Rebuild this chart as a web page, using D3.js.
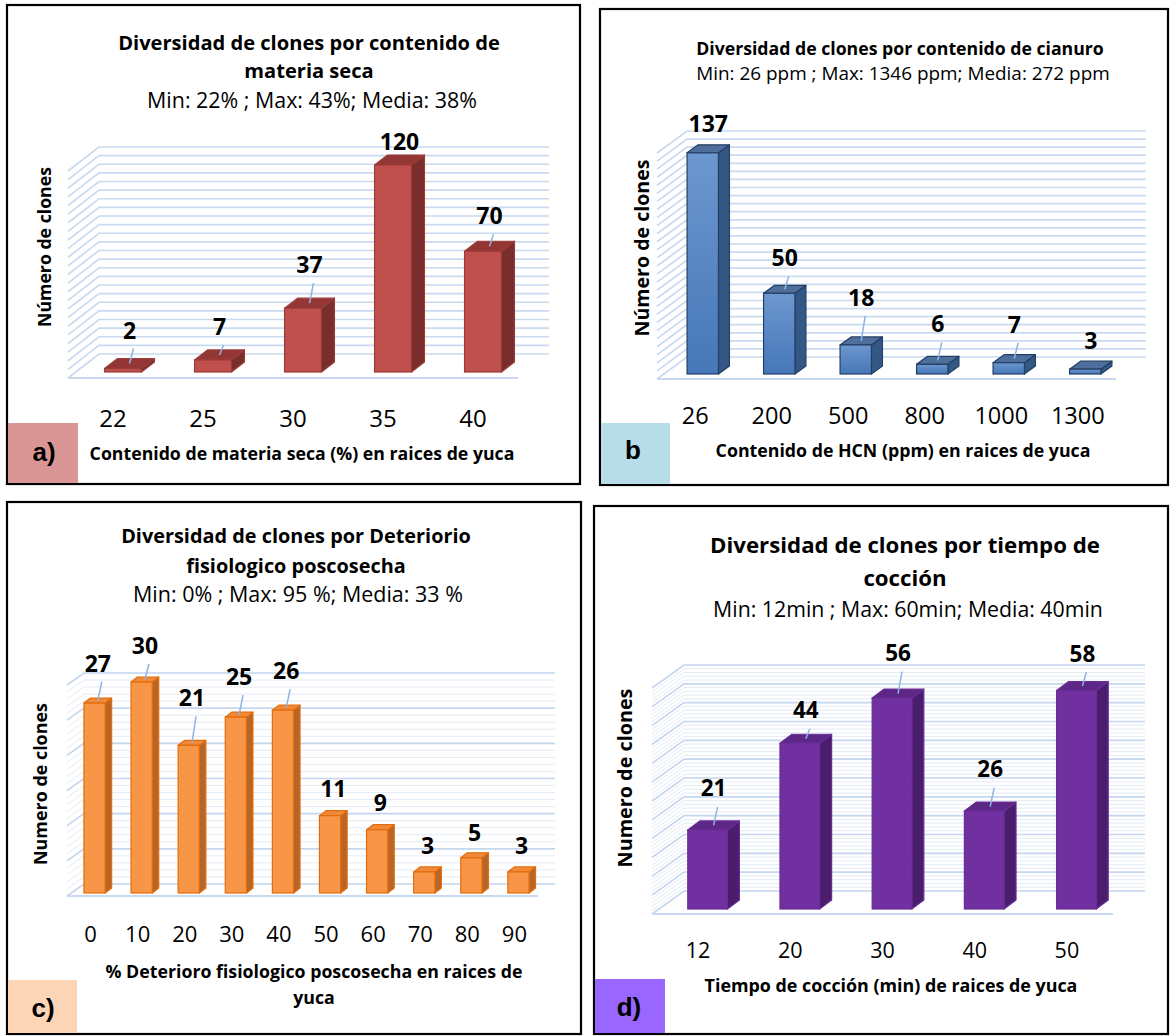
<!DOCTYPE html>
<head>
  <meta charset="utf-8">
  <script src="https://d3js.org/d3.v7.min.js"></script>
  <style>
    body { margin:0; background:#fff; }
    svg { display:block; }
    text { font-family: "Open Sans", Lato, sans-serif; fill:#000; }
  </style>
</head>
<body>
<script>
// ---- data ----
var catsA = ["22", "25", "30", "35", "40"];
var valsA = [2, 7, 37, 120, 70];
var catsB = ["26", "200", "500", "800", "1000", "1300"];
var valsB = [137, 50, 18, 6, 7, 3];
var catsC = ["0", "10", "20", "30", "40", "50", "60", "70", "80", "90"];
var valsC = [27, 30, 21, 25, 26, 11, 9, 3, 5, 3];
var catsD = ["12", "20", "30", "40", "50"];
var valsD = [21, 44, 56, 26, 58];

var titleA = ["Diversidad de clones por contenido de", "materia seca"];
var subA = "Min: 22% ; Max: 43%; Media: 38%";
var xTitleA = ["Contenido de materia seca (%) en raices de yuca"];
var titleB = ["Diversidad de clones por contenido de cianuro"];
var subB = "Min: 26 ppm ; Max: 1346 ppm; Media: 272 ppm";
var xTitleB = ["Contenido de HCN (ppm) en raices de yuca"];
var titleC = ["Diversidad de clones por Deteriorio", "fisiologico poscosecha"];
var subC = "Min: 0% ; Max: 95 %; Media: 33 %";
var xTitleC = ["% Deterioro fisiologico poscosecha en raices de", "yuca"];
var titleD = ["Diversidad de clones por tiempo de", "cocción"];
var subD = "Min: 12min ; Max: 60min; Media: 40min";
var xTitleD = ["Tiempo de cocción (min) de raices de yuca"];

var svg = d3.select("body").append("svg")
  .attr("width", 1171).attr("height", 1036);

var defs = svg.append("defs");
var gb = defs.append("linearGradient").attr("id", "blueFront")
  .attr("x1", 0).attr("y1", 0).attr("x2", 0).attr("y2", 1);
gb.append("stop").attr("offset", "0%").attr("stop-color", "#6d97cf");
gb.append("stop").attr("offset", "100%").attr("stop-color", "#4677b8");

// scale a block of text lines so the first one is `target` px wide
function fitLines(sel, target) {
  var first = sel.nodes()[0];
  var fs = parseFloat(d3.select(first).attr("font-size"));
  var len = first.getComputedTextLength();
  sel.attr("font-size", fs * target / len);
}

function drawChart(c) {
  var g = svg.append("g");

  // panel frame
  g.append("rect").attr("x", c.box[0]).attr("y", c.box[1])
    .attr("width", c.box[2]).attr("height", c.box[3])
    .attr("fill", "#fff").attr("stroke", "#000").attr("stroke-width", 2.2);

  // titles
  var tl = g.selectAll(null).data(c.title).enter().append("text")
    .attr("x", c.titleCx).attr("y", function (d, i) { return c.titleY[i]; })
    .attr("text-anchor", "middle").attr("dominant-baseline", "central")
    .attr("font-weight", "bold").attr("font-size", 18).text(function (d) { return d; });
  fitLines(tl, c.titleW);
  var st = g.append("text").attr("x", c.subCx).attr("y", c.subY)
    .attr("text-anchor", "middle").attr("dominant-baseline", "central")
    .attr("font-size", 17).text(c.sub);
  fitLines(st, c.subW);

  var f = c.floor, w = c.wall;
  var x = d3.scaleBand().domain(c.cats).range([f.x0, f.x1]);
  var h = d3.scaleLinear().domain([0, c.wallMax])
    .range([0, f.y - w.dy - w.top]);

  // walls: minor + major gridlines on side wall (diagonal) and back wall
  var grid = g.append("g").attr("fill", "none");
  function gridLines(vals, col, sw) {
    vals.forEach(function (v) {
      var yf = f.y - h(v), yb = f.y - w.dy - h(v);
      grid.append("path")
        .attr("d", "M" + f.x0 + "," + yf + "L" + (f.x0 + w.dx) + "," + yb +
          "L" + (f.x1 + w.dx) + "," + yb)
        .attr("stroke", col).attr("stroke-width", sw);
    });
  }
  if (c.minor) gridLines(d3.range(0, c.wallMax + 0.001, c.minor), "#e3ebf5", 1);
  gridLines(d3.range(0, c.wallMax + 0.001, c.major), c.minor ? "#c5d7ee" : "#c9daf0", 1.7);
  grid.append("line").attr("x1", f.x0).attr("x2", f.x1)
    .attr("y1", f.y).attr("y2", f.y).attr("stroke", "#c9daf0").attr("stroke-width", 2);

  // 3D bars
  var bw = x.bandwidth() * c.barFrac;
  var bars = g.append("g");
  c.vals.forEach(function (v, i) {
    var cx = x(c.cats[i]) + x.bandwidth() / 2 + c.barOff[0];
    var x0 = cx - bw / 2, x1 = cx + bw / 2;
    var yb = f.y - c.barOff[1], yt = yb - h(v);
    var dx = c.barDepth[0], dy = c.barDepth[1];
    var sw = 1.2;
    bars.append("path")
      .attr("d", "M" + x1 + "," + yt + "L" + (x1 + dx) + "," + (yt - dy) +
        "L" + (x1 + dx) + "," + (yb - dy) + "L" + x1 + "," + yb + "Z")
      .attr("fill", c.col.side).attr("stroke", c.col.line).attr("stroke-width", sw)
      .attr("stroke-linejoin", "round");
    bars.append("path")
      .attr("d", "M" + x0 + "," + yt + "L" + (x0 + dx) + "," + (yt - dy) +
        "L" + (x1 + dx) + "," + (yt - dy) + "L" + x1 + "," + yt + "Z")
      .attr("fill", c.col.top).attr("stroke", c.col.line).attr("stroke-width", sw)
      .attr("stroke-linejoin", "round");
    bars.append("rect").attr("x", x0).attr("y", yt)
      .attr("width", bw).attr("height", yb - yt)
      .attr("fill", c.col.front).attr("stroke", c.col.line).attr("stroke-width", sw);

    // value label with leader line
    var fx = cx + dx / 2, fy = yt - dy / 2;
    var ly = fy - c.lift[i];
    if (c.lift[i] >= 28) {
      g.append("line").attr("x1", fx).attr("y1", fy)
        .attr("x2", fx + 4).attr("y2", ly + 19)
        .attr("stroke", "#8db3e2").attr("stroke-width", 1.5);
    }
    g.append("text").attr("x", fx).attr("y", ly)
      .attr("text-anchor", "middle").attr("dominant-baseline", "central")
      .attr("font-weight", "bold").attr("font-size", c.valSize).text(v);
  });

  // category axis labels
  g.selectAll(null).data(c.cats).enter().append("text")
    .attr("x", function (d) { return x(d) + x.bandwidth() / 2; })
    .attr("y", c.tickY)
    .attr("text-anchor", "middle").attr("dominant-baseline", "central")
    .attr("font-size", c.tickSize).text(function (d) { return d; });

  // axis titles
  var xt = g.selectAll(null).data(c.xTitle).enter().append("text")
    .attr("x", c.xTitleCx).attr("y", function (d, i) { return c.xTitleY[i]; })
    .attr("text-anchor", "middle").attr("dominant-baseline", "central")
    .attr("font-weight", "bold").attr("font-size", 16).text(function (d) { return d; });
  fitLines(xt, c.xTitleW);
  var yt = g.append("text")
    .attr("transform", "translate(" + c.yTitleX + "," + c.yTitleCy + ") rotate(-90)")
    .attr("text-anchor", "middle").attr("dominant-baseline", "central")
    .attr("font-weight", "bold").attr("font-size", 16).text(c.yTitle);
  fitLines(yt, c.yTitleW);

  // panel tag
  g.append("rect").attr("x", c.tag.box[0]).attr("y", c.tag.box[1])
    .attr("width", c.tag.box[2]).attr("height", c.tag.box[3]).attr("fill", c.tag.fill);
  g.append("text").attr("x", c.tag.cx).attr("y", c.tag.cy)
    .attr("text-anchor", "middle").attr("dominant-baseline", "central")
    .style("font-family", "'Liberation Sans', Arial, sans-serif")
    .attr("font-weight", "bold").attr("font-size", 26).text(c.tag.text);
}

drawChart({
  cats: catsA, vals: valsA, title: titleA, sub: subA, xTitle: xTitleA, yTitle: "Número de clones",
  box: [7, 5, 573, 479], titleCx: 309, titleY: [42, 70], titleW: 382,
  subCx: 312, subY: 99, subW: 330,
  floor: { x0: 68, x1: 518, y: 378 }, wall: { dx: 31, dy: 24, top: 147 },
  wallMax: 120, major: 5, minor: null,
  barFrac: 0.41, barOff: [10, 6], barDepth: [13, 10],
  lift: [34, 29, 39, 19, 31], valSize: 23,
  tickY: 417, tickSize: 24,
  xTitleCx: 302, xTitleY: [453], xTitleW: 425,
  yTitleX: 44, yTitleCy: 247, yTitleW: 160,
  col: { front: "#c0504d", top: "#943634", side: "#7a2e2c", line: "#9b3b38" },
  tag: { box: [8, 423, 70, 60], fill: "#d99694", text: "a)", cx: 44, cy: 452 }
});

drawChart({
  cats: catsB, vals: valsB, title: titleB, sub: subB, xTitle: xTitleB, yTitle: "Número de clones",
  box: [600, 9, 568, 476], titleCx: 900, titleY: [48], titleW: 408,
  subCx: 903, subY: 73, subW: 414,
  floor: { x0: 657, x1: 1116, y: 379 }, wall: { dx: 30, dy: 22, top: 131 },
  wallMax: 140, major: 5, minor: null,
  barFrac: 0.41, barOff: [7.5, 5], barDepth: [11, 8],
  lift: [26, 32, 44, 37, 35, 25], valSize: 23,
  tickY: 415, tickSize: 23.5,
  xTitleCx: 903, xTitleY: [450], xTitleW: 375,
  yTitleX: 641, yTitleCy: 248, yTitleW: 177,
  col: { front: "url(#blueFront)", top: "#4e6f9c", side: "#345886", line: "#243f66" },
  tag: { box: [601, 423, 69, 61], fill: "#b7dee8", text: "b", cx: 633, cy: 450 }
});

drawChart({
  cats: catsC, vals: valsC, title: titleC, sub: subC, xTitle: xTitleC, yTitle: "Numero de clones",
  box: [7, 502, 574, 532], titleCx: 296, titleY: [535, 565], titleW: 350,
  subCx: 298, subY: 593, subW: 330,
  floor: { x0: 67, x1: 538, y: 896 }, wall: { dx: 17, dy: 12, top: 673 },
  wallMax: 30, major: 5, minor: 1,
  barFrac: 0.45, barOff: [4, 3], barDepth: [6.5, 5],
  lift: [38, 34.5, 45.5, 38.5, 37.5, 25.5, 25.5, 24.5, 23.5, 24.5], valSize: 23,
  tickY: 933, tickSize: 22,
  xTitleCx: 314, xTitleY: [971, 997], xTitleW: 417,
  yTitleX: 40, yTitleCy: 784, yTitleW: 162,
  col: { front: "#f79646", top: "#ee8a3a", side: "#b7662a", line: "#e46c0a" },
  tag: { box: [8, 980, 69, 53], fill: "#fbd5b5", text: "c)", cx: 43, cy: 1008 }
});

drawChart({
  cats: catsD, vals: valsD, title: titleD, sub: subD, xTitle: xTitleD, yTitle: "Numero de clones",
  box: [594, 506, 574, 528], titleCx: 905, titleY: [544, 577], titleW: 390,
  subCx: 908, subY: 608, subW: 390,
  floor: { x0: 652, x1: 1113, y: 914 }, wall: { dx: 32, dy: 23, top: 665 },
  wallMax: 60, major: 5, minor: 1,
  barFrac: 0.43, barOff: [9.5, 5], barDepth: [12, 9],
  lift: [37.5, 29, 41, 38, 33], valSize: 22.5,
  tickY: 949, tickSize: 21.5,
  xTitleCx: 891, xTitleY: [985], xTitleW: 373,
  yTitleX: 624, yTitleCy: 778, yTitleW: 179,
  col: { front: "#7030a0", top: "#5c2787", side: "#4a1e6c", line: "#6a2c98" },
  tag: { box: [595, 979, 70, 54], fill: "#9966ff", text: "d)", cx: 629, cy: 1007 }
});
</script>
</body>
